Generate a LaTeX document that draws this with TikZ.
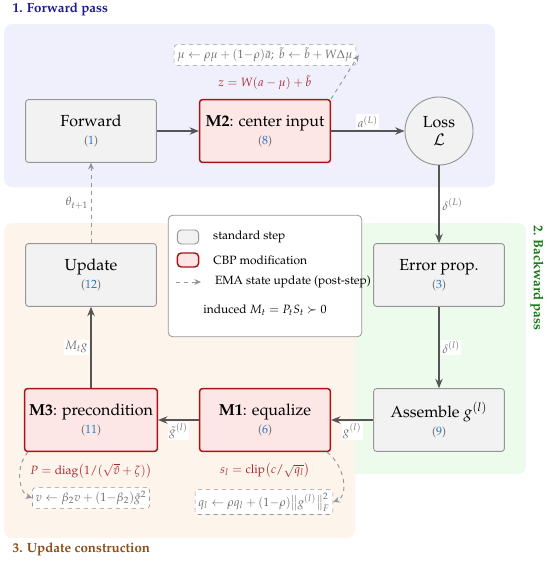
\documentclass[tikz,border=0pt]{standalone}
\usepackage[T1]{fontenc}
\usepackage{mathpazo}
\usepackage{amsmath}
\usepackage{amssymb}
\usepackage{xcolor}
\usetikzlibrary{shapes,arrows.meta,positioning,calc}

\definecolor{fwdbg}{RGB}{239,240,252}
\definecolor{bwdbg}{RGB}{236,251,236}
\definecolor{updbg}{RGB}{253,244,236}
\definecolor{fwdtitle}{RGB}{28,28,140}
\definecolor{bwdtitle}{RGB}{24,122,24}
\definecolor{updtitle}{RGB}{140,78,20}
\definecolor{stdfill}{RGB}{242,242,242}
\definecolor{stdedge}{RGB}{150,150,150}
\definecolor{cbpfill}{RGB}{253,230,230}
\definecolor{cbpedge}{RGB}{170,20,20}
\definecolor{formred}{RGB}{170,40,50}
\definecolor{eqblue}{RGB}{40,120,195}
\definecolor{arrowgray}{RGB}{85,85,85}
\definecolor{emagray}{RGB}{150,150,150}
\definecolor{labelgray}{RGB}{110,110,110}

\newcommand{\stepref}[1]{{\small\textcolor{labelgray}{(}\textcolor{eqblue}{#1}\textcolor{labelgray}{)}}}

\begin{document}
\begin{tikzpicture}[x=0.75pt, y=-0.75pt,
    box/.style={draw=stdedge, fill=stdfill, rectangle, rounded corners=2pt, minimum width=98pt, minimum height=47pt, align=center, line width=0.7pt},
    cbp/.style={box, draw=cbpedge, fill=cbpfill, line width=1.1pt},
    arrow/.style={-{Stealth[length=7pt,width=5.5pt]}, line width=1.1pt, draw=arrowgray},
    ema/.style={-{Stealth[length=5pt,width=4.5pt]}, dashed, draw=emagray, line width=0.7pt},
    lbl/.style={fill=white, inner sep=1pt, font=\small, text=labelgray},
    upd/.style={draw=emagray, dashed, rounded corners=2pt, fill=white, inner sep=2.5pt, font=\small, text=labelgray},
    formula/.style={font=\small, text=formred}
]
\useasboundingbox (0,0) rectangle (550,563);

% Regions
\fill[fwdbg, rounded corners=6pt] (4,24) rectangle (495,187);
\fill[bwdbg, rounded corners=6pt] (330,223) rectangle (526,474);
\fill[updbg, rounded corners=6pt] (4,223) rectangle (355,538);
\node[anchor=west, font=\bfseries, text=fwdtitle] (fwdtitle) at (8,9) {1. Forward pass};
\node[rotate=-90, font=\bfseries, text=bwdtitle] (bwdtitle) at (537,278) {2. Backward pass};
\node[anchor=west, font=\bfseries, text=updtitle] (updtitle) at (8,549) {3. Update construction};

% Forward pass
\node[box] (forward) at (91,131) {{\large Forward}\\[1.5pt]\stepref{1}};
\node[cbp] (m2) at (265,131) {{\large\textbf{M2}: center input}\\[1.5pt]\stepref{8}};
\node[circle, draw=stdedge, fill=stdfill, line width=0.7pt, minimum size=51pt, align=center, inner sep=0pt] (loss) at (439,131) {{\large Loss}\\[1pt]{\large$\mathcal{L}$}};
\node[formula] (zform) at (265,83) {$z = W(a-\mu)+\tilde b$};
\node[upd] (mubox) at (265,55) {$\mu \leftarrow \rho\mu + (1{-}\rho)\bar a;\ \tilde b \leftarrow \tilde b + W\Delta\mu$};
\draw[arrow] (forward) -- (m2);
\draw[arrow] (m2) -- node[lbl, above=1pt] {$a^{(L)}$} (loss);
\draw[ema] (m2.north east) -- ([xshift=2pt]mubox.east);

% Backward pass
\node[box] (errprop) at (439,275) {{\large Error prop.}\\[1.5pt]\stepref{3}};
\node[box] (assemble) at (439,420) {{\large Assemble $g^{(l)}$}\\[1.5pt]\stepref{9}};
\draw[arrow] (loss) -- node[lbl, right=1pt] {$\delta^{(L)}$} (errprop);
\draw[arrow] (errprop) -- node[lbl, right=1pt] {$\delta^{(l)}$} (assemble);

% Update construction
\node[cbp] (m1) at (265,420) {{\large\textbf{M1}: equalize}\\[1.5pt]\stepref{6}};
\node[cbp] (m3) at (91,420) {{\large\textbf{M3}: precondition}\\[1.5pt]\stepref{11}};
\node[box] (update) at (91,275) {{\large Update}\\[1.5pt]\stepref{12}};
\draw[arrow] (assemble) -- node[lbl, below=1pt] {$g^{(l)}$} (m1);
\draw[arrow] (m1) -- node[lbl, below=1pt] {$\tilde g^{(l)}$} (m3);
\draw[arrow] (m3) -- node[lbl, left=1pt] {$M_t g$} (update);
\draw[ema] (update) -- node[lbl, left=1pt] {$\theta_{t+1}$} (forward);

\node[formula] (pform) at (91,471) {$P = \operatorname{diag}\bigl(1/(\sqrt{\hat v}+\zeta)\bigr)$};
\node[upd] (vbox) at (91,498) {$v \leftarrow \beta_2 v + (1{-}\beta_2)\tilde g^2$};
\node[formula] (sform) at (265,470) {$s_l = \operatorname{clip}\bigl(c/\sqrt{q_l}\bigr)$};
\node[upd] (qbox) at (264,502) {$q_l \leftarrow \rho q_l + (1{-}\rho)\bigl\|g^{(l)}\bigr\|_F^2$};
\draw[ema] ([xshift=3pt]m3.south west) .. controls +(-14,16) and +(-12,-4) .. (vbox.west);
\draw[ema] ([xshift=-3pt]m1.south east) .. controls +(18,14) and +(16,-6) .. (qbox.east);

% Legend
\node[draw=stdedge, fill=white, rounded corners=3pt, line width=0.6pt, minimum width=145pt, minimum height=91pt] (legend) at (265,276) {};
\node[box, minimum width=16pt, minimum height=10.5pt, rounded corners=3pt] (legstd) at (188,237) {};
\node[cbp, minimum width=16pt, minimum height=10.5pt, rounded corners=3pt] (legcbp) at (188,260) {};
\coordinate (legema1) at (176,282);
\coordinate (legema2) at (201,282);
\draw[ema] (legema1) -- (legema2);
\node[right=7pt of legstd, font=\small] (legstdtxt) {standard step};
\node[right=7pt of legcbp, font=\small] (legcbptxt) {CBP modification};
\node[right=7pt of legema2, font=\small] (legematxt) {EMA state update (post-step)};
\node[font=\small] (legmt) at (265,310) {induced $M_t = P_tS_t \succ 0$};

\end{tikzpicture}
\end{document}
